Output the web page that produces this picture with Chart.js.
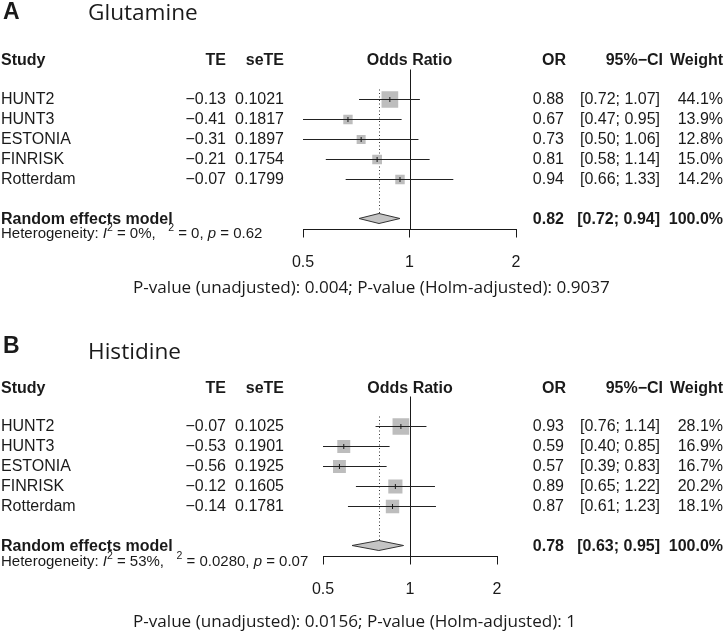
<!DOCTYPE html>
<html><head><meta charset="utf-8">
<script src="https://cdn.jsdelivr.net/npm/chart.js@4.4.0/dist/chart.umd.min.js"></script>
<style>
html,body{margin:0;padding:0;background:#fff;}
.panel{position:relative;width:724px;height:318px;}
canvas{display:block;}
</style></head><body>
<div class="panel"><canvas id="cA" width="724" height="318"></canvas></div>
<div class="panel"><canvas id="cB" width="724" height="318"></canvas></div>
<script>
// ---------- DATA ----------
const studies = ["HUNT2", "HUNT3", "ESTONIA", "FINRISK", "Rotterdam"];
const xTickValues = [0.5, 1, 2];

// Panel A: Glutamine
const titleA = "Glutamine";
const teA = [-0.13, -0.41, -0.31, -0.21, -0.07];
const seTEA = [0.1021, 0.1817, 0.1897, 0.1754, 0.1799];
const orA = [0.88, 0.67, 0.73, 0.81, 0.94];
const loA = [0.72, 0.47, 0.50, 0.58, 0.66];
const hiA = [1.07, 0.95, 1.06, 1.14, 1.33];
const weightA = [44.1, 13.9, 12.8, 15.0, 14.2];
const summaryA = [0.82, 0.72, 0.94];
const hetA = ["0%", "0", "0.62"];
const pValA = "P-value (unadjusted): 0.004; P-value (Holm-adjusted): 0.9037";

// Panel B: Histidine
const titleB = "Histidine";
const teB = [-0.07, -0.53, -0.56, -0.12, -0.14];
const seTEB = [0.1025, 0.1901, 0.1925, 0.1605, 0.1781];
const orB = [0.93, 0.59, 0.57, 0.89, 0.87];
const loB = [0.76, 0.40, 0.39, 0.65, 0.61];
const hiB = [1.14, 0.85, 0.83, 1.22, 1.23];
const weightB = [28.1, 16.9, 16.7, 20.2, 18.1];
const summaryB = [0.78, 0.63, 0.95];
const hetB = ["53%", "0.0280", "0.07"];
const pValB = "P-value (unadjusted): 0.0156; P-value (Holm-adjusted): 1";

// ---------- RENDERING ----------
const TBL = '"Liberation Sans", Arial, sans-serif';
const TTL = '"Open Sans", "Noto Sans", sans-serif';
const INK = '#1a1a1a';
const fmtTE = v => (v < 0 ? '\u2212' : '') + Math.abs(v).toFixed(2);
const fmtCI = (l, h) => '[' + l.toFixed(2) + '; ' + h.toFixed(2) + ']';

function makePanel(id, letter, title, te, se, or, lo, hi, w, summ, het, pval, L) {
  const maxW = Math.max(...w);
  const squares = or.map((v, i) => ({x: v, y: i + 1}));
  const ciLine = [];
  lo.forEach((l, i) => { ciLine.push({x: l, y: i + 1}, {x: hi[i], y: i + 1}, {x: NaN, y: NaN}); });
  const sumRow = 6.95, dh = 0.25;
  const diamond = [
    {x: summ[1], y: sumRow}, {x: summ[0], y: sumRow - dh},
    {x: summ[2], y: sumRow}, {x: summ[0], y: sumRow + dh}, {x: summ[1], y: sumRow}
  ];

  const refLines = {
    id: 'refLines',
    beforeDatasetsDraw(chart) {
      const ctx = chart.ctx, xs = chart.scales.x, ys = chart.scales.y;
      ctx.save();
      ctx.lineWidth = 1;
      // line of no effect (OR = 1), full height of plot area
      const x1 = Math.round(xs.getPixelForValue(1)) + 0.5;
      ctx.strokeStyle = INK;
      ctx.beginPath();
      ctx.moveTo(x1, ys.getPixelForValue(-0.5));
      ctx.lineTo(x1, ys.getPixelForValue(7.5));
      ctx.stroke();
      // dotted line at the pooled estimate
      const xs0 = Math.round(xs.getPixelForValue(summ[0])) + 0.5;
      ctx.strokeStyle = '#333';
      ctx.setLineDash([1, 2.5]);
      ctx.beginPath();
      ctx.moveTo(xs0, ys.getPixelForValue(0.5));
      ctx.lineTo(xs0, ys.getPixelForValue(sumRow - dh));
      ctx.stroke();
      ctx.restore();
    }
  };

  const textPlugin = {
    id: 'forestText',
    afterDraw(chart) {
      const ctx = chart.ctx;
      const ys = chart.scales.y, xs = chart.scales.x;
      const rowY = v => ys.getPixelForValue(v);
      ctx.save();
      ctx.fillStyle = INK;
      ctx.textBaseline = 'middle';
      // titles
      ctx.textAlign = 'left';
      ctx.font = 'bold 23px ' + TBL;
      ctx.fillText(letter, 3, L.letterY);
      ctx.font = '22.6px ' + TTL;
      ctx.fillText(title, 88, L.titleY);
      // header
      ctx.font = 'bold 16px ' + TBL;
      ctx.fillText('Study', 1, L.headerY);
      ctx.textAlign = 'right';
      ctx.fillText('TE', 226, L.headerY);
      ctx.fillText('seTE', 284, L.headerY);
      ctx.fillText('OR', 566, L.headerY);
      ctx.fillText('95%\u2212CI', 663, L.headerY);
      ctx.fillText('Weight', 723, L.headerY);
      ctx.textAlign = 'center';
      ctx.fillText('Odds Ratio', xs.getPixelForValue(1), L.headerY);
      // rows
      ctx.font = '16px ' + TBL;
      studies.forEach((s, i) => {
        const y = rowY(i + 1) + 0.5;
        ctx.textAlign = 'left';
        ctx.fillText(s, 1, y);
        ctx.textAlign = 'right';
        ctx.fillText(fmtTE(te[i]), 226, y);
        ctx.fillText(se[i].toFixed(4), 284, y);
        ctx.fillText(or[i].toFixed(2), 564, y);
        ctx.fillText(fmtCI(lo[i], hi[i]), 660, y);
        ctx.fillText(w[i].toFixed(1) + '%', 723, y);
      });
      // summary row
      const ySum = rowY(7) + 0.5;
      ctx.font = 'bold 16px ' + TBL;
      ctx.textAlign = 'left';
      ctx.fillText('Random effects model', 1, ySum);
      ctx.textAlign = 'right';
      ctx.fillText(summ[0].toFixed(2), 564, ySum);
      ctx.fillText(fmtCI(summ[1], summ[2]), 660, ySum);
      ctx.fillText('100.0%', 723, ySum);
      // heterogeneity
      ctx.textAlign = 'left';
      const hy = L.hetY;
      const fs = 15;
      const parts = [
        ['Heterogeneity: ', ''], ['I', 'italic '], ['2', 'sup'], [' = ' + het[0] + ',   ', ''],
        ['2', 'sup'], [' = ' + het[1] + ', ', ''], ['p', 'italic '], [' = ' + het[2], '']
      ];
      let x = 1;
      parts.forEach(([t, st]) => {
        if (st === 'sup') {
          ctx.font = (fs * 0.7) + 'px ' + TBL;
          ctx.fillText(t, x, hy - fs * 0.4);
        } else {
          ctx.font = st + fs + 'px ' + TBL;
          ctx.fillText(t, x, hy);
        }
        x += ctx.measureText(t).width;
      });
      // p-value line
      ctx.font = '17.1px ' + TTL;
      ctx.fillText(pval, 133, L.pY);
      ctx.restore();
    }
  };

  return new Chart(document.getElementById(id), {
    type: 'scatter',
    data: {
      datasets: [
        { // weighted squares
          data: squares, pointStyle: 'rect', backgroundColor: '#bdbdbd', borderWidth: 0,
          pointRadius: c => 16.7 * Math.sqrt(w[c.dataIndex] / maxW) * Math.SQRT1_2, order: 7
        },
        { // CI lines
          data: ciLine, showLine: true, spanGaps: false, borderColor: '#222', borderWidth: 1,
          pointRadius: 0, order: 3
        },
        { // point estimate ticks
          data: squares, pointStyle: 'line', pointRotation: 90, pointRadius: 2.5,
          borderColor: INK, borderWidth: 1, order: 2
        },
        { // diamond
          data: diamond, showLine: true, fill: 'shape', backgroundColor: '#c4c4c4',
          borderColor: '#333', borderWidth: 1, pointRadius: 0, order: 4
        }
      ]
    },
    options: {
      responsive: false, animation: false, events: [],
      layout: {padding: {top: L.top, left: L.left, right: 724 - L.right, bottom: 318 - L.bottom - 40}},
      plugins: {legend: {display: false}, tooltip: {enabled: false}},
      elements: {line: {tension: 0}},
      scales: {
        x: {
          type: 'logarithmic', min: 0.5, max: 2,
          afterBuildTicks: s => { s.ticks = xTickValues.map(v => ({value: v})); },
          afterFit: s => { s.height = 40; },
          grid: {drawOnChartArea: false, drawTicks: true, tickLength: 8, color: INK, lineWidth: 1},
          border: {display: true, color: INK, width: 1},
          ticks: {padding: L.tickPad, color: INK, font: {family: TBL, size: 16},
                  autoSkip: false, maxRotation: 0, callback: v => String(v)}
        },
        y: {type: 'linear', reverse: true, min: -0.5, max: 7.5, display: false}
      }
    },
    plugins: [refLines, textPlugin]
  });
}

makePanel('cA', 'A', titleA, teA, seTEA, orA, loA, hiA, weightA, summaryA, hetA, pValA,
  {top: 69.5, bottom: 229.5, left: 303, right: 516, letterY: 13, titleY: 14, headerY: 61, hetY: 234, pY: 288, tickPad: 15});
makePanel('cB', 'B', titleB, teB, seTEB, orB, loB, hiB, weightB, summaryB, hetB, pValB,
  {top: 78.5, bottom: 238.5, left: 323, right: 497, letterY: 29, titleY: 35, headerY: 71, hetY: 244, pY: 304, tickPad: 15});
</script>
</body></html>
